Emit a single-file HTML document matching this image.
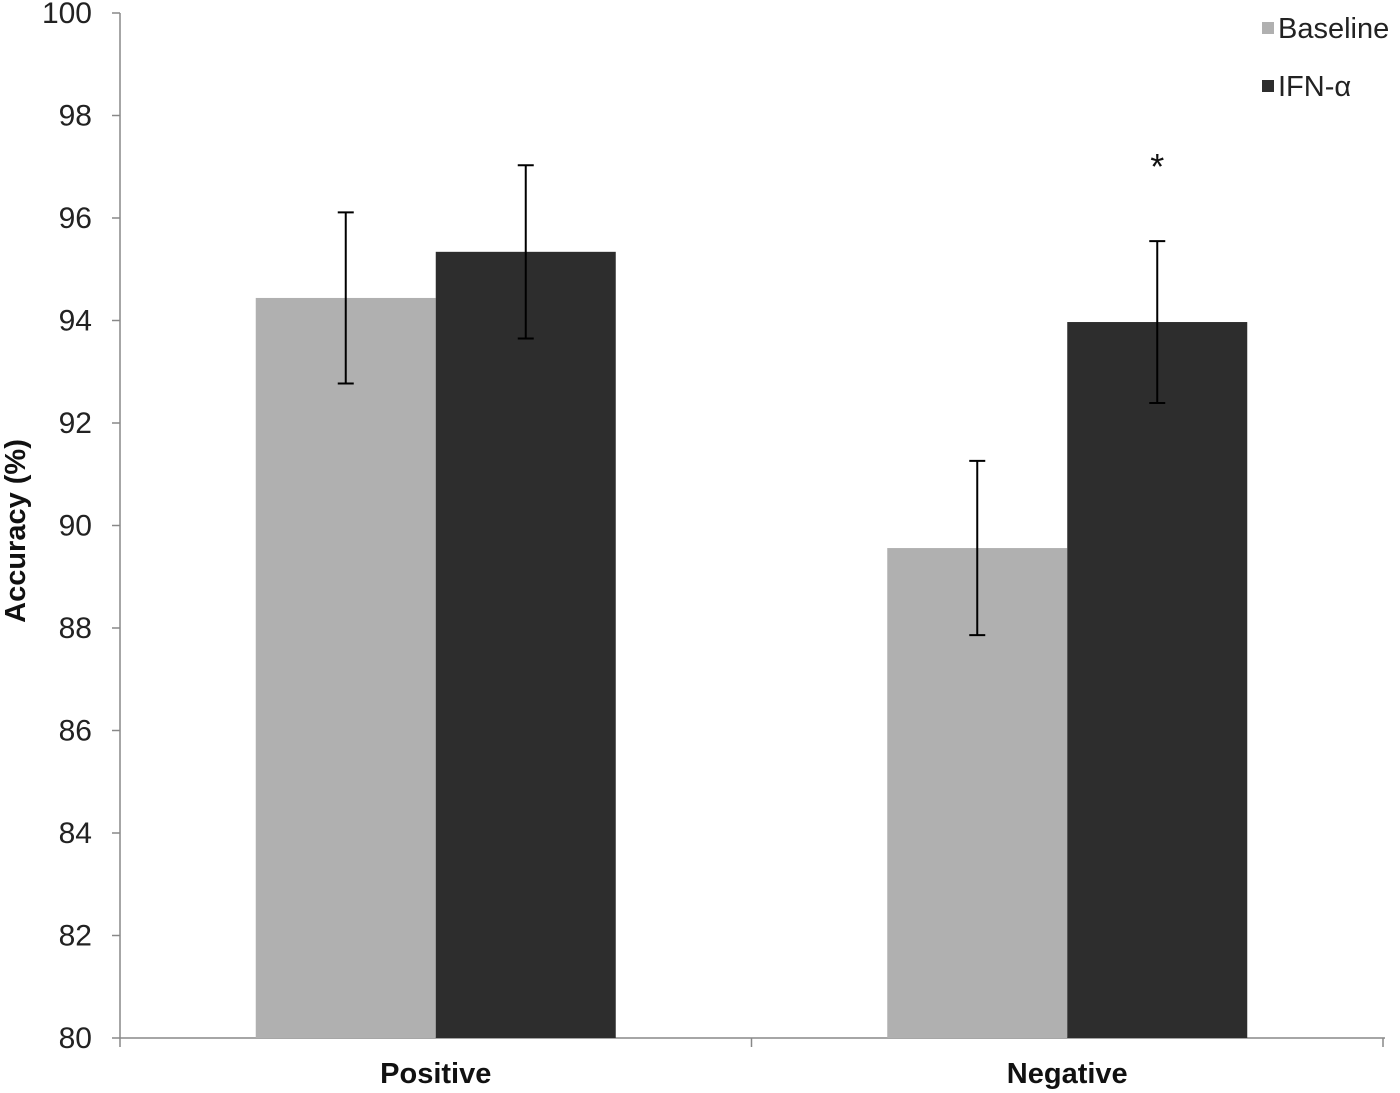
<!DOCTYPE html>
<html><head><meta charset="utf-8"><style>
html,body{margin:0;padding:0;background:#fff;}
svg{display:block;font-family:"Liberation Sans",Arial,sans-serif;}
</style></head><body>
<svg id="chart" width="1400" height="1093" viewBox="0 0 1400 1093" xmlns="http://www.w3.org/2000/svg"></svg>
<script>
const categories = ["Positive", "Negative"];
const seriesNames = ["Baseline", "IFN-α"];
const baselineValues = [94.44, 89.56];
const ifnValues = [95.34, 93.97];
const baselineErrors = [1.67, 1.70];
const ifnErrors = [1.69, 1.58];
const yTicks = [80, 82, 84, 86, 88, 90, 92, 94, 96, 98, 100];
const significant = [false, true];

const svg = document.getElementById('chart');
const NS = 'http://www.w3.org/2000/svg';
const X0 = 120, X1 = 1383, Y0 = 1038, Y1 = 13, YMIN = 80, YMAX = 100;
function y(v){ return Y0 - (v - YMIN) / (YMAX - YMIN) * (Y0 - Y1); }
const catW = (X1 - X0) / categories.length;
function catCenter(i){ return X0 + catW * (i + 0.5); }
const barW = 180;
function mk(tag, attrs){ const e = document.createElementNS(NS, tag); for (const k in attrs) e.setAttribute(k, attrs[k]); svg.appendChild(e); return e; }

let ax = mk('line', {x1:X0, y1:Y1, x2:X0, y2:Y0, stroke:'#888', 'stroke-width':1.5});


ax = mk('line', {x1:X0, y1:Y0, x2:X1+2, y2:Y0, stroke:'#888', 'stroke-width':1.5});



yTicks.forEach(t => {
  const tk = mk('line', {x1:X0-8, y1:y(t), x2:X0, y2:y(t), stroke:'#888', 'stroke-width':1.5});
  
  
  const lb = mk('text', {x:92, y:y(t)+10, 'text-anchor':'end', 'font-size':30, fill:'#222'});
  lb.textContent = t;
  
  
});
for (let i = 0; i <= categories.length; i++) {
  const tk = mk('line', {x1:X0+catW*i, y1:Y0, x2:X0+catW*i, y2:Y0+9, stroke:'#888', 'stroke-width':1.5});
  
  
}

const series = [
  {vals: baselineValues, errs: baselineErrors, color:'#b0b0b0', off:-1, name:'baseline'},
  {vals: ifnValues, errs: ifnErrors, color:'#2d2d2d', off:0, name:'ifn'}
];
categories.forEach((c, i) => {
  const cx = catCenter(i);
  series.forEach(s => {
    const bx = cx + s.off * barW;
    const r = mk('rect', {x:bx, y:y(s.vals[i]), width:barW, height:Y0 - y(s.vals[i]), fill:s.color});
    
    
    const mx = bx + barW/2, top = y(s.vals[i] + s.errs[i]), bot = y(s.vals[i] - s.errs[i]);
    const g = document.createElementNS(NS, 'g');
    
    
    svg.appendChild(g);
    [[mx,top,mx,bot],[mx-8,top,mx+8,top],[mx-8,bot,mx+8,bot]].forEach(p => {
      const l = document.createElementNS(NS, 'line');
      l.setAttribute('x1', p[0]); l.setAttribute('y1', p[1]); l.setAttribute('x2', p[2]); l.setAttribute('y2', p[3]);
      l.setAttribute('stroke', '#000'); l.setAttribute('stroke-width', 2);
      g.appendChild(l);
    });
  });
  const lb = mk('text', {x:cx, y:1083, 'text-anchor':'middle', 'font-size':29, 'font-weight':'bold', fill:'#111'});
  lb.textContent = c;
  
  
  if (significant[i]) {
    const st = mk('text', {x:cx + barW/2, y:y(ifnValues[i] + ifnErrors[i]) - 62, 'text-anchor':'middle', 'font-size':36, fill:'#111'});
    st.textContent = '*';
    
    
  }
});

const yt = mk('text', {x:0, y:0, transform:'translate(25,531) rotate(-90)', 'text-anchor':'middle', 'font-size':29, 'font-weight':'bold', fill:'#111'});
yt.textContent = 'Accuracy (%)';



series.forEach((s, k) => {
  const ly = 22 + k * 58;
  const sw = mk('rect', {x:1262, y:ly, width:12, height:12, fill:s.color});
  
  
  const t = mk('text', {x:1278, y:ly+16, 'font-size':29, fill:'#222'});
  t.textContent = seriesNames[k];
  
  
});
</script>
</body></html>
